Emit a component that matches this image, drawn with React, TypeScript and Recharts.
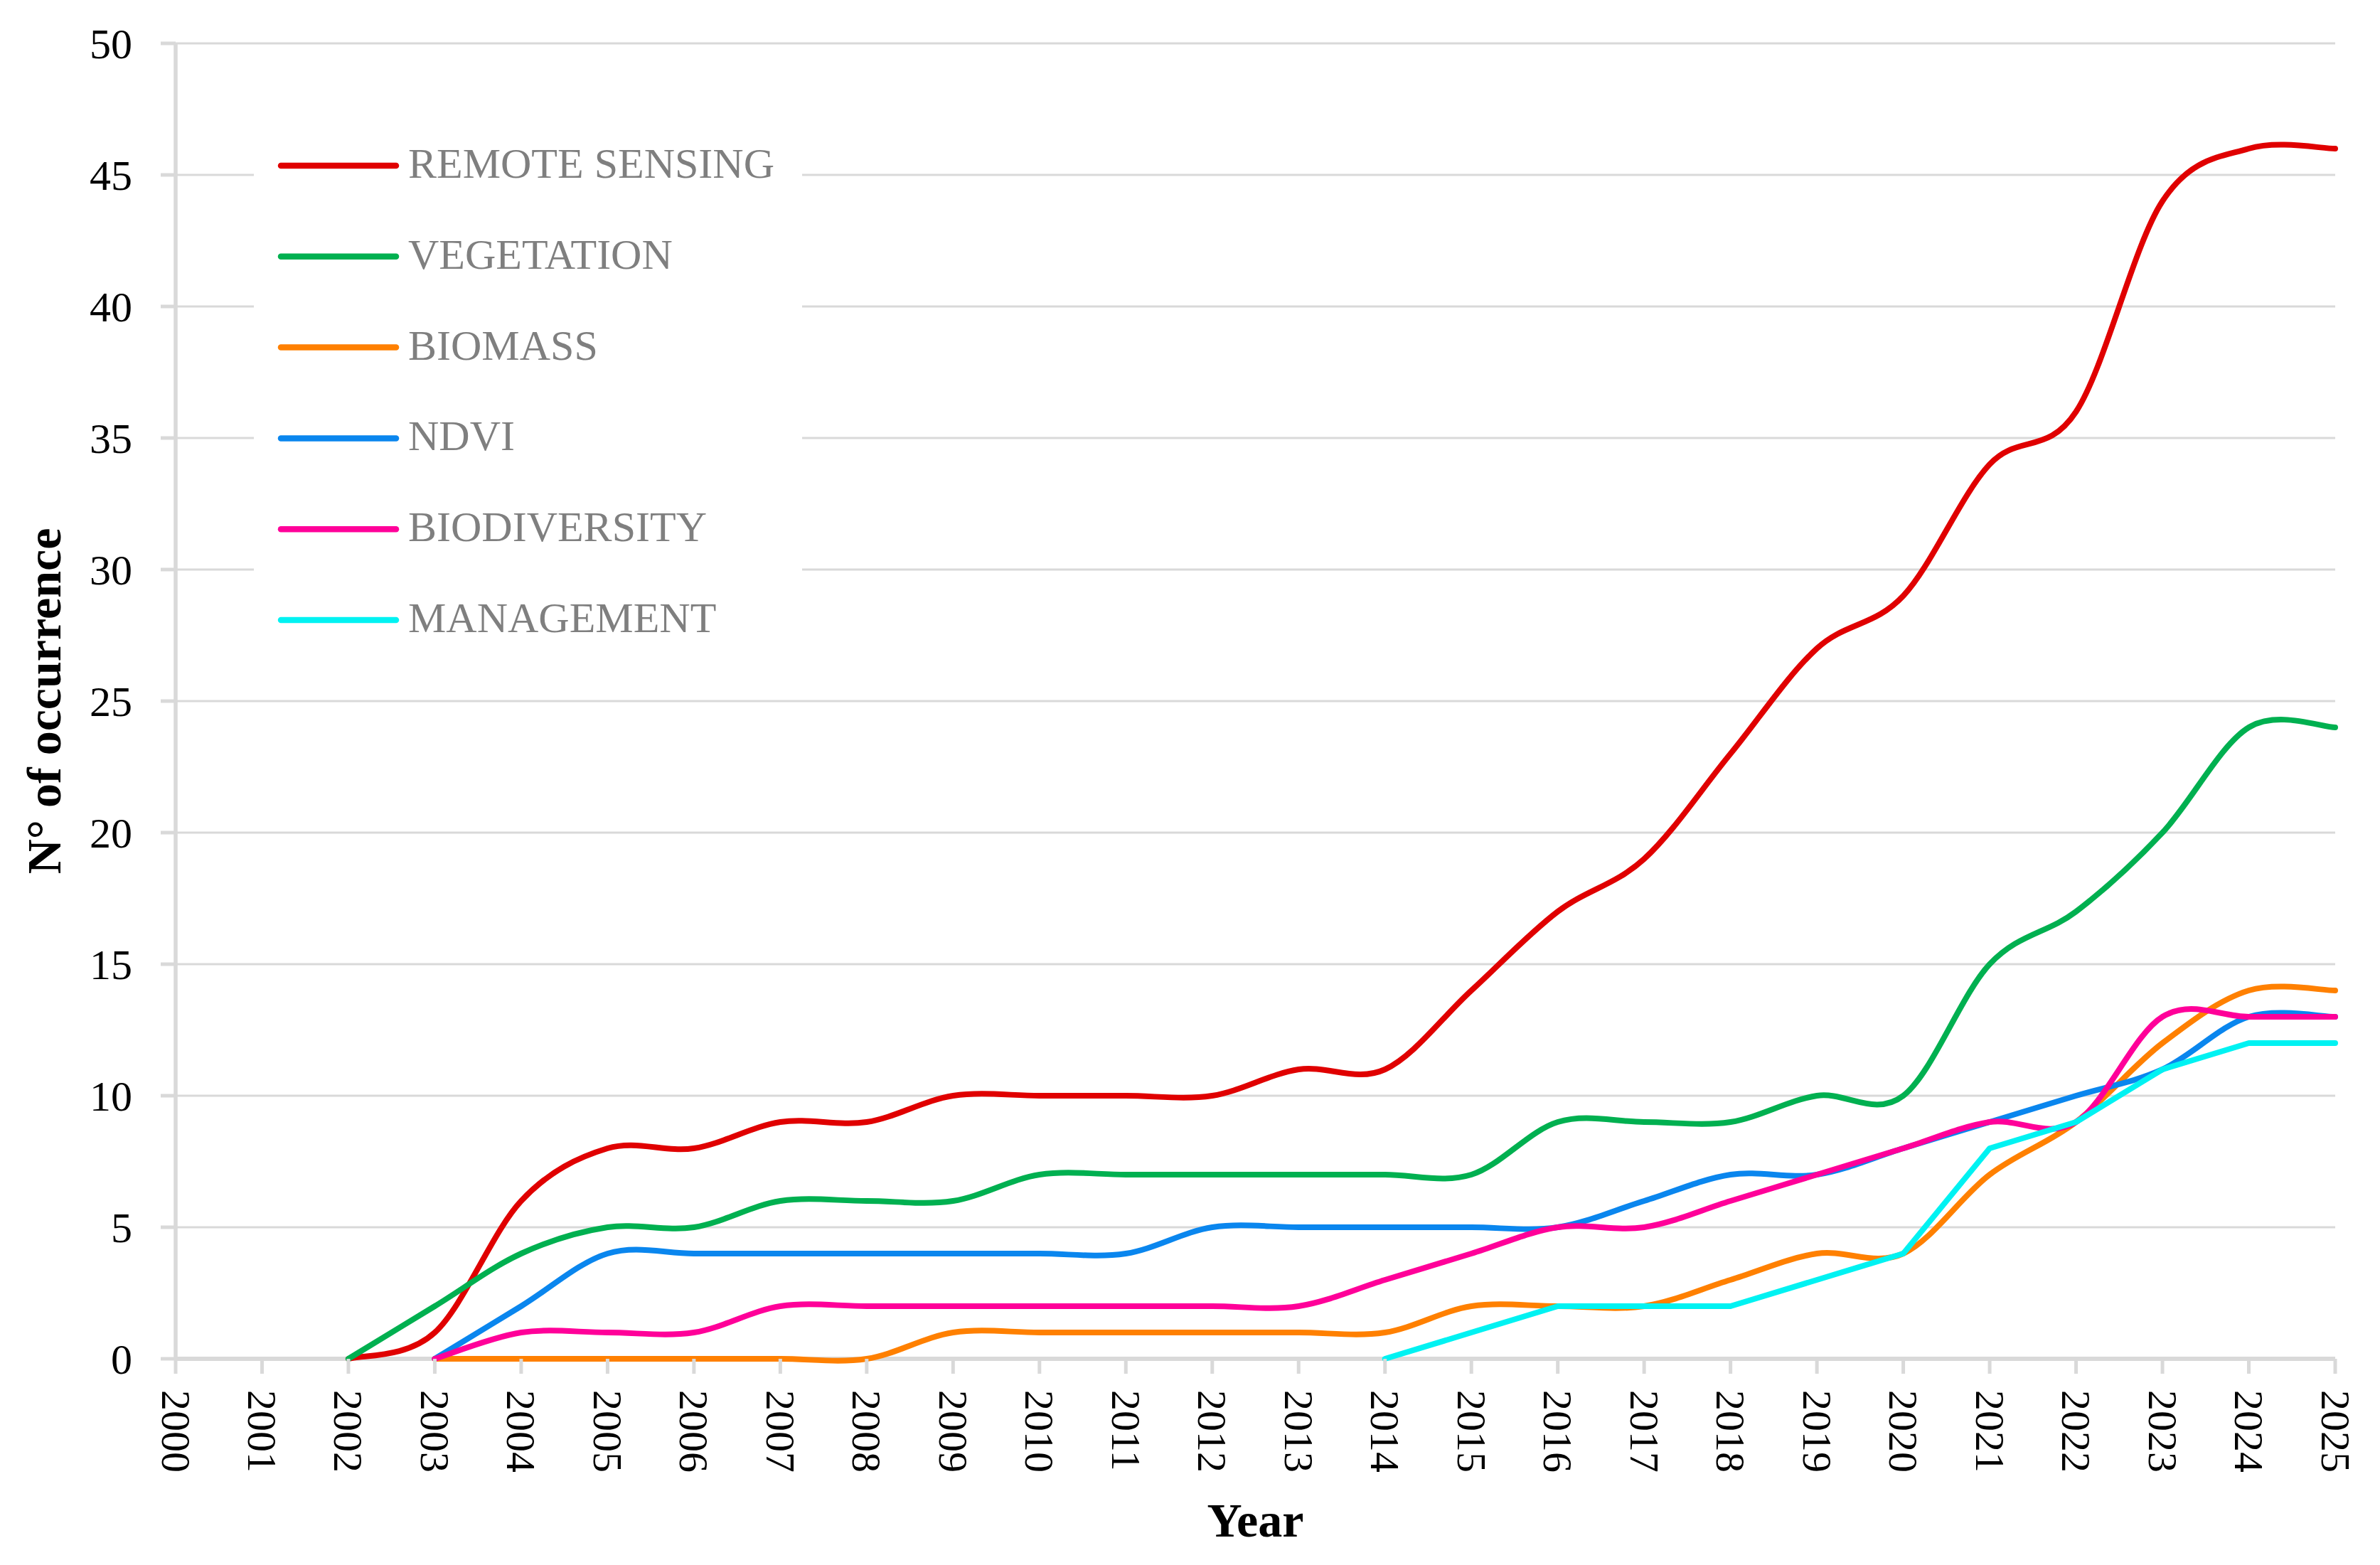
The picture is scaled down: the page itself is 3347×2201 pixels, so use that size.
import React from 'react';
import { LineChart, Line, XAxis, YAxis, CartesianGrid, Legend } from 'recharts';

// ---------- data ----------
const years = [2000, 2001, 2002, 2003, 2004, 2005, 2006, 2007, 2008, 2009, 2010, 2011, 2012, 2013, 2014, 2015, 2016, 2017, 2018, 2019, 2020, 2021, 2022, 2023, 2024, 2025];
const remoteSensing = [null, null, 0, 1, 6, 8, 8, 9, 9, 10, 10, 10, 10, 11, 11, 14, 17, 19, 23, 27, 29, 34, 36, 44, 46, 46];
const vegetation = [null, null, 0, 2, 4, 5, 5, 6, 6, 6, 7, 7, 7, 7, 7, 7, 9, 9, 9, 10, 10, 15, 17, 20, 24, 24];
const biomass = [null, null, null, 0, 0, 0, 0, 0, 0, 1, 1, 1, 1, 1, 1, 2, 2, 2, 3, 4, 4, 7, 9, 12, 14, 14];
const ndvi = [null, null, null, 0, 2, 4, 4, 4, 4, 4, 4, 4, 5, 5, 5, 5, 5, 6, 7, 7, 8, 9, 10, 11, 13, 13];
const biodiversity = [null, null, null, 0, 1, 1, 1, 2, 2, 2, 2, 2, 2, 2, 3, 4, 5, 5, 6, 7, 8, 9, 9, 13, 13, 13];
const management = [null, null, null, null, null, null, null, null, null, null, null, null, null, null, 0, 1, 2, 2, 2, 3, 4, 8, 9, 11, 12, 12];
const yTicks = [0, 5, 10, 15, 20, 25, 30, 35, 40, 45, 50];
const seriesNames = ['REMOTE SENSING', 'VEGETATION', 'BIOMASS', 'NDVI', 'BIODIVERSITY', 'MANAGEMENT'];
const seriesKeys = ['rs', 'veg', 'bio', 'ndvi', 'div', 'man'];

const data = years.map((year, i) => ({
  year,
  rs: remoteSensing[i],
  veg: vegetation[i],
  bio: biomass[i],
  ndvi: ndvi[i],
  div: biodiversity[i],
  man: management[i],
}));

// ---------- styles ----------
const COLORS = ['#E00000', '#00B050', '#FF8000', '#0A86EE', '#FF0099', '#00F2F2'];
const SMOOTH = [true, true, true, true, true, false];
const FONT = '"Liberation Serif", "DejaVu Serif", serif';
const AXIS_GREY = '#D9D9D9';

// Excel-like smoothing (Catmull-Rom Bezier, 1/6 tangents)
function excelCurve(context: any) {
  let pts: number[][] = [];
  return {
    areaStart() {},
    areaEnd() {},
    lineStart() {
      pts = [];
    },
    lineEnd() {
      const n = pts.length;
      if (n === 0) return;
      context.moveTo(pts[0][0], pts[0][1]);
      if (n === 1) {
        context.lineTo(pts[0][0], pts[0][1]);
        return;
      }
      for (let i = 0; i < n - 1; i++) {
        const p0 = pts[Math.max(i - 1, 0)];
        const p1 = pts[i];
        const p2 = pts[i + 1];
        const p3 = pts[Math.min(i + 2, n - 1)];
        context.bezierCurveTo(
          p1[0] + (p2[0] - p0[0]) / 6,
          p1[1] + (p2[1] - p0[1]) / 6,
          p2[0] - (p3[0] - p1[0]) / 6,
          p2[1] - (p3[1] - p1[1]) / 6,
          p2[0],
          p2[1]
        );
      }
    },
    point(x: number, y: number) {
      pts.push([+x, +y]);
    },
  };
}

// Horizontal grid line; the bottom one doubles as the (thicker) category axis line,
// drawn beneath the series so that lines lying on zero remain visible.
const GridLine = (props: any) => {
  const { x1, x2, y1, y2 } = props;
  const isBase = y1 > 1900;
  return (
    <line
      x1={x1}
      x2={x2}
      y1={y1}
      y2={y2}
      stroke={AXIS_GREY}
      strokeWidth={isBase ? 6 : 3.2}
    />
  );
};

const XTick = (props: any) => {
  const { x, y, payload } = props;
  return (
    <text
      x={x}
      y={y}
      transform={`rotate(90, ${x}, ${y})`}
      textAnchor="start"
      dominantBaseline="central"
      fontFamily={FONT}
      fontSize={58}
      fill="#000"
    >
      {payload.value}
    </text>
  );
};

const LegendBox = () => (
  <div style={{ width: 771, height: 780, background: '#fff' }}>
    <svg width={771} height={780} style={{ display: 'block' }}>
      {seriesNames.map((name, i) => {
        const cy = 68 + i * 127.8;
        return (
          <g key={name}>
            <line x1={38} x2={200} y1={cy} y2={cy} stroke={COLORS[i]} strokeWidth={8.5} strokeLinecap="round" />
            <text x={217} y={cy + 17} fontFamily={FONT} fontSize={60} fill="#7F7F7F">
              {name}
            </text>
          </g>
        );
      })}
    </svg>
  </div>
);

const XLabel = (props: any) => {
  const vb = props.viewBox || {};
  return (
    <text x={vb.x + vb.width / 2} y={2161} textAnchor="middle" fontFamily={FONT} fontWeight="bold" fontSize={68} fill="#000">
      Year
    </text>
  );
};

const YLabel = (props: any) => {
  const vb = props.viewBox || {};
  const cy = vb.y + vb.height / 2;
  return (
    <text
      x={85}
      y={cy}
      transform={`rotate(-90, 85, ${cy})`}
      textAnchor="middle"
      fontFamily={FONT}
      fontWeight="bold"
      fontSize={68}
      fill="#000"
    >
      N° of occurrence
    </text>
  );
};

export default function App() {
  return (
    <div style={{ position: 'absolute', left: 0, top: 0, width: 3347, height: 2201, background: '#fff' }}>
      <LineChart width={3347} height={2201} data={data} margin={{ top: 61, right: 63, left: 0, bottom: 0 }}>
        <CartesianGrid horizontal={<GridLine />} vertical={false} stroke={AXIS_GREY} strokeWidth={3.2} />
        <XAxis
          dataKey="year"
          type="number"
          domain={[2000, 2025]}
          ticks={years}
          interval={0}
          height={290}
          axisLine={false}
          tickLine={{ stroke: AXIS_GREY, strokeWidth: 5 }}
          tickSize={21}
          tickMargin={23}
          tick={<XTick />}
          label={<XLabel />}
        />
        <YAxis
          type="number"
          domain={[0, 50]}
          ticks={yTicks}
          interval={0}
          width={247}
          axisLine={{ stroke: AXIS_GREY, strokeWidth: 5.5 }}
          tickLine={{ stroke: AXIS_GREY, strokeWidth: 5 }}
          tickSize={21}
          tickMargin={40}
          tick={{ fontFamily: FONT, fontSize: 60, fill: '#000' }}
          label={<YLabel />}
        />
        <Legend
          layout="vertical"
          align="center"
          verticalAlign="middle"
          wrapperStyle={{ left: 357, top: 165, width: 771, height: 780 }}
          content={<LegendBox />}
        />
        {seriesKeys.map((k, i) => (
          <Line
            key={k}
            dataKey={k}
            name={seriesNames[i]}
            type={SMOOTH[i] ? (excelCurve as any) : 'linear'}
            stroke={COLORS[i]}
            strokeWidth={8}
            strokeLinecap="round"
            strokeLinejoin="round"
            dot={false}
            activeDot={false}
            connectNulls={false}
            isAnimationActive={false}
          />
        ))}
      </LineChart>
    </div>
  );
}
